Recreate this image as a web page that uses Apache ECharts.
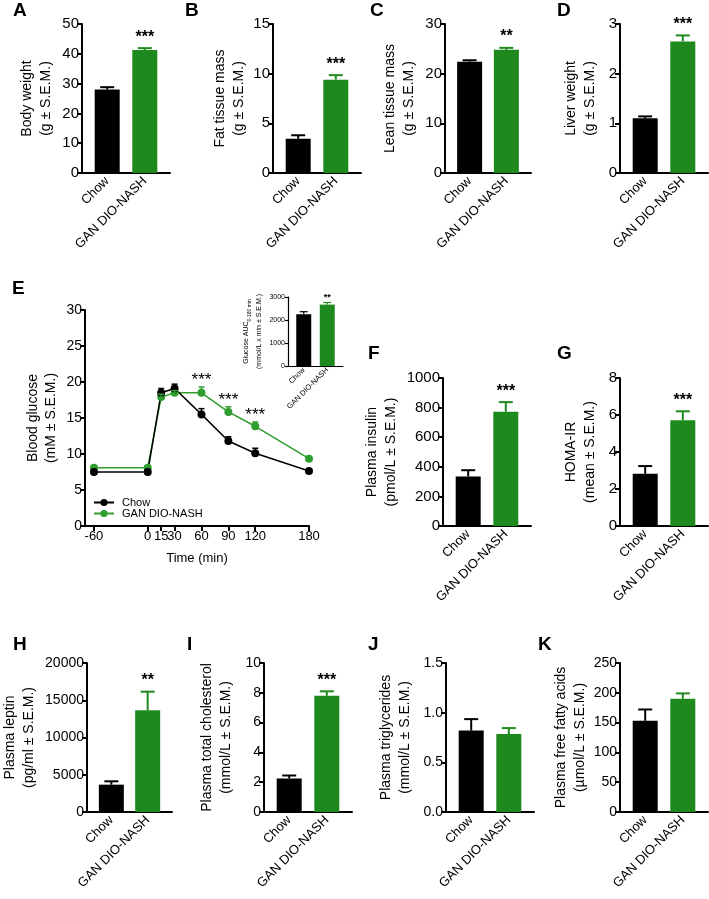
<!DOCTYPE html>
<html>
<head>
<meta charset="utf-8">
<title>GAN DIO-NASH metabolic phenotype</title>
<script src="https://cdn.jsdelivr.net/npm/echarts@6/dist/echarts.min.js"></script>
<style>
  html, body { margin: 0; padding: 0; background: #fff; }
  #chart { width: 709px; height: 899px; }
</style>
</head>
<body>
<div id="chart"></div>
<script>
const groups = ['Chow', 'GAN DIO-NASH']

// A-D
const bodyWeight = [28.0, 41.3]
const bodyWeightSem = [0.8, 0.6]
const bodyWeightSig = ['', '***']
const fatMass = [3.45, 9.4]
const fatMassSem = [0.35, 0.45]
const fatMassSig = ['', '***']
const leanMass = [22.4, 24.8]
const leanMassSem = [0.3, 0.4]
const leanMassSig = ['', '**']
const liverWeight = [1.1, 2.65]
const liverWeightSem = [0.04, 0.12]
const liverWeightSig = ['', '***']

// E - oral glucose tolerance test
const ogttTime = [-60, 0, 15, 30, 60, 90, 120, 180]
const ogttChow = [7.5, 7.5, 18.5, 19.1, 15.5, 11.8, 10.1, 7.65]
const ogttChowSem = [0.3, 0.3, 0.6, 0.6, 0.8, 0.6, 0.7, 0.2]
const ogttGan = [8.1, 8.1, 17.9, 18.5, 18.5, 15.85, 13.85, 9.35]
const ogttGanSem = [0.2, 0.2, 0.4, 0.3, 0.8, 0.7, 0.6, 0.2]
const ogttSig = ['', '', '', '', '***', '***', '***', '']
const ogttTicks = [-60, 0, 15, 30, 60, 90, 120, 180]
const glucoseAuc = [2250, 2670]
const glucoseAucSem = [110, 90]
const glucoseAucSig = ['', '**']

// F-K
const insulin = [335, 772]
const insulinSem = [42, 65]
const insulinSig = ['', '***']
const homaIr = [2.82, 5.72]
const homaIrSem = [0.42, 0.48]
const homaIrSig = ['', '***']
const leptin = [3670, 13650]
const leptinSem = [450, 2500]
const leptinSig = ['', '**']
const cholesterol = [2.25, 7.8]
const cholesterolSem = [0.2, 0.3]
const cholesterolSig = ['', '***']
const triglycerides = [0.82, 0.785]
const triglyceridesSem = [0.115, 0.06]
const triglyceridesSig = ['', '']
const ffa = [153, 190]
const ffaSem = [19, 9]
const ffaSig = ['', '']

const FONT = '"Liberation Sans", Arial, sans-serif'
const BLACK = '#000000'
const GREEN = '#1e8a1e'
const GREEN_LINE = '#2f9e2f'
const barColors = [BLACK, GREEN]

const panels = [
  { vals: bodyWeight, sem: bodyWeightSem, sig: bodyWeightSig, max: 50, step: 10, name: 'Body weight\n(g ± S.E.M.)', box: [82, 24, 88, 149], gap: 26, tf: 15 },
  { vals: fatMass, sem: fatMassSem, sig: fatMassSig, max: 15, step: 5, name: 'Fat tissue mass\n(g ± S.E.M.)', box: [273, 24, 88, 149], gap: 24, tf: 15 },
  { vals: leanMass, sem: leanMassSem, sig: leanMassSig, max: 30, step: 10, name: 'Lean tissue mass\n(g ± S.E.M.)', box: [445, 24, 86, 149], gap: 26, tf: 15 },
  { vals: liverWeight, sem: liverWeightSem, sig: liverWeightSig, max: 3, step: 1, name: 'Liver weight\n(g ± S.E.M.)', box: [620, 24, 88, 149], gap: 20, tf: 15 },
  { vals: insulin, sem: insulinSem, sig: insulinSig, max: 1000, step: 200, name: 'Plasma insulin\n(pmol/L ± S.E.M.)', box: [443, 378, 88, 148], gap: 42, tf: 15 },
  { vals: homaIr, sem: homaIrSem, sig: homaIrSig, max: 8, step: 2, name: 'HOMA-IR\n(mean ± S.E.M.)', box: [620, 378, 88, 148], gap: 20, tf: 15 },
  { vals: leptin, sem: leptinSem, sig: leptinSig, max: 20000, step: 5000, name: 'Plasma leptin\n(pg/ml ± S.E.M.)', box: [84, 663, 88, 149], gap: 48, tf: 14 },
  { vals: cholesterol, sem: cholesterolSem, sig: cholesterolSig, max: 10, step: 2, name: 'Plasma total cholesterol\n(mmol/L ± S.E.M.)', box: [264, 663, 88, 149], gap: 28, tf: 14 },
  { vals: triglycerides, sem: triglyceridesSem, sig: triglyceridesSig, max: 1.5, step: 0.5, name: 'Plasma triglycerides\n(mmol/L ± S.E.M.)', box: [446, 663, 88, 149], gap: 31, tf: 14, fmt: v => v.toFixed(1) },
  { vals: ffa, sem: ffaSem, sig: ffaSig, max: 250, step: 50, name: 'Plasma free fatty acids\n(µmol/L ± S.E.M.)', box: [620, 663, 88, 149], gap: 29, tf: 14 }
]

const letters = [
  ['A', 13, 1], ['B', 185, 1], ['C', 370, 1], ['D', 557, 1],
  ['E', 12, 279], ['F', 368, 344], ['G', 557, 344],
  ['H', 13, 635], ['I', 187, 635], ['J', 368, 635], ['K', 538, 635]
]

function errorSeries(idx, points, colorOf, sig, capHalf, starFont, starGap, lw) {
  return {
    type: 'custom',
    xAxisIndex: idx,
    yAxisIndex: idx,
    silent: true,
    z: 3,
    data: points,
    renderItem(params, api) {
      const lo = api.coord([api.value(0), api.value(1)])
      const hi = api.coord([api.value(0), api.value(2)])
      const c = colorOf(params.dataIndex)
      const kids = [
        { type: 'line', shape: { x1: lo[0], y1: lo[1], x2: hi[0], y2: hi[1] }, style: { stroke: c, lineWidth: lw } },
        { type: 'line', shape: { x1: hi[0] - capHalf, y1: hi[1], x2: hi[0] + capHalf, y2: hi[1] }, style: { stroke: c, lineWidth: lw } }
      ]
      const s = sig[params.dataIndex]
      if (s) {
        kids.push({
          type: 'text',
          x: hi[0],
          y: hi[1] - starGap,
          style: { text: s, font: starFont, fill: '#000', align: 'center', verticalAlign: 'bottom' }
        })
      }
      return { type: 'group', children: kids }
    }
  }
}

const grid = []
const xAxis = []
const yAxis = []
const series = []

function addBarPanel(p, opts) {
  const i = grid.length
  const o = Object.assign({ axisW: 2, tick: 5, tickFont: p.tf || 14, nameFont: 14, catFont: 13, bw: 25, cap: 7, star: 'bold 16px ' + FONT, starGap: 3, nameLH: 19 }, opts || {})
  grid.push({ left: p.box[0], top: p.box[1], width: p.box[2], height: p.box[3] })
  xAxis.push({
    type: 'value',
    gridIndex: i,
    min: -0.67,
    max: 1.67,
    axisLine: { onZero: false, lineStyle: { color: '#000', width: o.axisW } },
    axisTick: { show: false },
    splitLine: { show: false },
    axisLabel: {
      customValues: [0, 1],
      formatter: v => groups[v],
      rotate: 45,
      fontSize: o.catFont,
      fontFamily: FONT,
      color: '#000',
      margin: o.catMargin || 6
    }
  })
  yAxis.push({
    type: 'value',
    gridIndex: i,
    min: 0,
    max: p.max,
    interval: p.step,
    name: p.name,
    nameLocation: 'middle',
    nameGap: p.gap,
    nameTextStyle: Object.assign({ fontSize: o.nameFont, fontFamily: FONT, color: '#000', lineHeight: o.nameLH }, o.nameRich ? { rich: o.nameRich } : {}),
    axisLine: { show: true, onZero: false, lineStyle: { color: '#000', width: o.axisW } },
    axisTick: { show: true, length: o.tick, lineStyle: { color: '#000', width: o.axisW } },
    splitLine: { show: false },
    axisLabel: { fontSize: o.tickFont, fontFamily: FONT, color: '#000', margin: 3, formatter: p.fmt || (v => String(v)) }
  })
  series.push({
    type: 'bar',
    xAxisIndex: i,
    yAxisIndex: i,
    barWidth: o.bw,
    silent: true,
    data: p.vals.map((v, k) => ({ value: [k, v], itemStyle: { color: barColors[k] } }))
  })
  series.push(errorSeries(i, p.vals.map((v, k) => [k, v, v + p.sem[k]]), k => barColors[k], p.sig, o.cap, o.star, o.starGap, o.axisW))
}

panels.forEach(p => addBarPanel(p))

// E main panel
const e = grid.length
grid.push({ left: 85, top: 310, width: 224, height: 216 })
xAxis.push({
  type: 'value',
  gridIndex: e,
  min: -70,
  max: 180,
  name: 'Time (min)',
  nameLocation: 'middle',
  nameGap: 26,
  nameTextStyle: { fontSize: 13, fontFamily: FONT, color: '#000' },
  axisLine: { onZero: false, lineStyle: { color: '#000', width: 2 } },
  axisTick: { customValues: ogttTicks, length: 5, lineStyle: { color: '#000', width: 2 } },
  axisLabel: { customValues: ogttTicks, fontSize: 13, fontFamily: FONT, color: '#000', margin: 4 },
  splitLine: { show: false }
})
yAxis.push({
  type: 'value',
  gridIndex: e,
  min: 0,
  max: 30,
  interval: 5,
  name: 'Blood glucose\n(mM ± S.E.M.)',
  nameLocation: 'middle',
  nameGap: 25,
  nameTextStyle: { fontSize: 14, fontFamily: FONT, color: '#000', lineHeight: 18 },
  axisLine: { show: true, onZero: false, lineStyle: { color: '#000', width: 2 } },
  axisTick: { show: true, length: 5, lineStyle: { color: '#000', width: 2 } },
  splitLine: { show: false },
  axisLabel: { fontSize: 14, fontFamily: FONT, color: '#000', margin: 3 }
})
series.push({
  type: 'line', name: 'GAN DIO-NASH', xAxisIndex: e, yAxisIndex: e,
  data: ogttTime.map((t, k) => [t, ogttGan[k]]),
  symbol: 'circle', symbolSize: 8, color: GREEN_LINE, lineStyle: { width: 1.5 }, z: 2
})
series.push({
  type: 'line', name: 'Chow', xAxisIndex: e, yAxisIndex: e,
  data: ogttTime.map((t, k) => [t, ogttChow[k]]),
  symbol: 'circle', symbolSize: 8, color: BLACK, lineStyle: { width: 1.5 }, z: 2
})
series.push(errorSeries(e, ogttTime.map((t, k) => [t, ogttChow[k], ogttChow[k] + ogttChowSem[k]]), () => BLACK, [], 3, '', 0, 1.5))
series.push(errorSeries(e, ogttTime.map((t, k) => [t, ogttGan[k], ogttGan[k] + ogttGanSem[k]]), () => GREEN_LINE, ogttSig, 3, '17px ' + FONT, -2, 1.5))

// E inset: glucose AUC
addBarPanel(
  { vals: glucoseAuc, sem: glucoseAucSem, sig: glucoseAucSig, max: 3000, step: 1000,
    name: 'Glucose AUC{s|0-180 min}\n(mmol/L x min ± S.E.M.)', box: [288, 297, 55, 69], gap: 21 },
  { axisW: 1.2, tick: 3, tickFont: 7, nameFont: 7, nameLH: 13, catFont: 7.5, catMargin: 3, bw: 15, cap: 4,
    star: 'bold 9px ' + FONT, starGap: 1, nameRich: { s: { fontSize: 5, fontFamily: FONT, color: '#000', verticalAlign: 'bottom' } } }
)

const chart = echarts.init(document.getElementById('chart'))
chart.setOption({
  backgroundColor: '#fff',
  animation: false,
  grid: grid,
  xAxis: xAxis,
  yAxis: yAxis,
  legend: {
    data: ['Chow', 'GAN DIO-NASH'],
    orient: 'vertical',
    left: 93,
    top: 497,
    padding: 0,
    itemWidth: 20,
    itemHeight: 9,
    itemGap: 0,
    textStyle: { fontSize: 11, lineHeight: 11, fontFamily: FONT, color: '#000', padding: [0, 0, 0, 3] }
  },
  graphic: letters.map(l => ({
    type: 'text',
    left: l[1],
    top: l[2],
    style: { text: l[0], font: 'bold 19px ' + FONT, fill: '#000' }
  })),
  series: series
})
</script>
</body>
</html>
